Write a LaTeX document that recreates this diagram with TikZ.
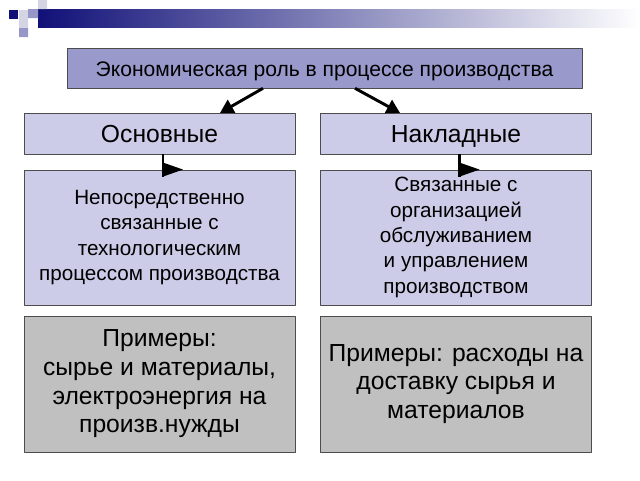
\documentclass[tikz,border=0pt]{standalone}
\usepackage{fontspec}
\setmainfont{Liberation Sans}
\usetikzlibrary{arrows.meta,calc}
\definecolor{darkblue}{RGB}{16,16,120}
\definecolor{midlav}{RGB}{150,150,200}
\definecolor{lightlav}{RGB}{212,212,228}
\definecolor{titlefill}{RGB}{153,153,204}
\definecolor{boxfill}{RGB}{204,204,232}
\definecolor{examplefill}{RGB}{192,192,192}
\begin{document}
\begin{tikzpicture}[x=0.75pt, y=-0.75pt, line join=round,
	titlebox/.style={draw=black!70, fill=titlefill, minimum width=386pt, minimum height=30pt, text height=12pt, text depth=0pt, font=\fontsize{15.8}{18}\selectfont},
	rolebox/.style={draw=black!70, fill=boxfill, minimum width=203pt, minimum height=30.5pt, text height=12.8pt, text depth=0pt, font=\fontsize{18.5}{21}\selectfont},
	descbox/.style={draw=black!70, fill=boxfill, minimum width=203pt, minimum height=101.5pt, align=center, font=\fontsize{15.5}{19}\selectfont},
	examplebox/.style={draw=black!70, fill=examplefill, minimum width=203pt, minimum height=102pt, align=center, font=\fontsize{18.5}{21.5}\selectfont},
	bigarrow/.style={line width=2.2pt, -{Triangle[length=10pt, width=11pt]}},
	bigline/.style={line width=2.2pt}]
	\useasboundingbox (0,0) rectangle (640,480);
	% decoration
	\shade[left color=darkblue, right color=white] (38,9) rectangle (640,27);
	\fill[darkblue] (9,10) rectangle (18,19);
	\fill[lightlav] (19,10) rectangle (28,19) (38,0) rectangle (47,9) (19,19) rectangle (28,28);
	\fill[midlav] (28,9) rectangle (38,18) (19,28) rectangle (28,37);
	% boxes
	\node[titlebox] (role) at (324.5,68) {Экономическая роль в процессе производства};
	\node[rolebox] (osn) at (159.5,133.5) {Основные};
	\node[rolebox] (nakl) at (456,133.5) {Накладные};
	\node[descbox] (direct) at (159.5,237.5) {Непосредственно\\связанные с\\технологическим\\процессом производства};
	\node[descbox] (indirect) at (456,237.5) {Связанные с\\организацией\\обслуживанием\\и управлением\\производством};
	\node[examplebox] (exosn) at (159.5,384) {Примеры:\\сырье и материалы,\\электроэнергия на\\произв.нужды};
	\node[examplebox] (exnakl) at (456,384) {Примеры: расходы на\\доставку сырья и\\материалов};
	% arrows
	\draw[bigarrow] ($(role.south)+(-61.5,0)$) -- ($(osn.north)+(60.5,0)$);
	\draw[bigarrow] ($(role.south)+(30.5,0)$) -- ($(nakl.north)+(-56,0)$);
	\foreach \b/\d in {osn/direct, nakl/indirect}{
		\draw[bigline] ($(\b.south)+(3.5,0)$) -- ($(\d.north)+(3.5,7)$);
		\fill ($(\d.north)+(3.5,-7)$) -- ++(20,7) -- ++(-20,7) -- cycle;
	}
\end{tikzpicture}
\end{document}
